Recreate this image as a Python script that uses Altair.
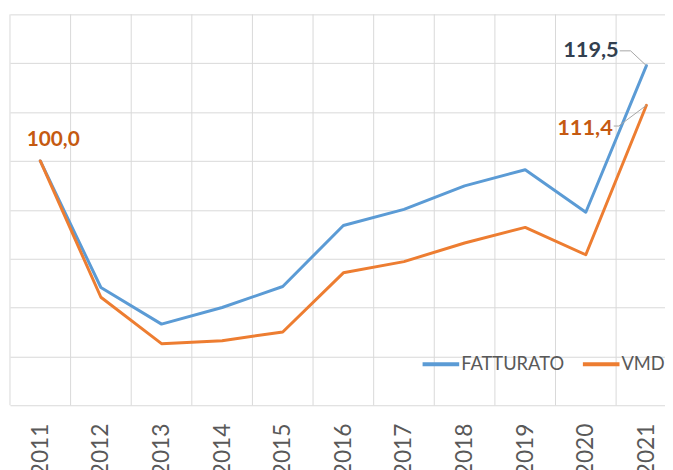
import altair as alt
import pandas as pd

# ---- data ----
years = list(range(2011, 2022))
fatturato = [100.0, 74.1, 66.6, 70.0, 74.3, 86.8, 90.1, 94.9, 98.2, 89.5, 119.5]
vmd = [100.0, 72.1, 62.6, 63.2, 65.0, 77.1, 79.4, 83.2, 86.4, 80.8, 111.4]
series = ["FATTURATO", "VMD"]
colors = ["#5b9bd5", "#ed7d31"]

rows = []
for yr, f, v in zip(years, fatturato, vmd):
    rows.append({"year": yr, "serie": series[0], "val": f})
    rows.append({"year": yr, "serie": series[1], "val": v})
df = pd.DataFrame(rows)

# ---- layout ----
W, H = 662, 395
STEP = 61.26                      # px per year
YMIN, YMAX = 50, 130
PPU = H / (YMAX - YMIN)           # px per value unit

xs = alt.Scale(domain=[years[0] - 0.5, years[0] - 0.5 + W / STEP], nice=False, zero=False)
ys = alt.Scale(domain=[YMIN, YMAX], nice=False, zero=False)

grid_col = "#d9d9d9"
text_col = "#595959"

x_axis = alt.Axis(
    values=years, format="d", labelAngle=-90, grid=False, domain=False,
    ticks=False, tickSize=0, labelPadding=18, labelFont="Lato",
    labelFontSize=23, labelColor=text_col, title=None, labelOverlap=False,
)
y_axis = alt.Axis(
    values=list(range(YMIN, YMAX + 1, 10)), grid=True, gridColor=grid_col,
    gridWidth=1, labels=False, ticks=False, domain=False, title=None,
)

base = alt.Chart(df)

# vertical gridlines at category boundaries
bounds = pd.DataFrame({"b": [y - 0.5 for y in years]})
vgrid = alt.Chart(bounds).mark_rule(color=grid_col, strokeWidth=1).encode(
    x=alt.X("b:Q", scale=xs, axis=x_axis, title=None)
)

lines = base.mark_line(strokeWidth=3, strokeJoin="round", strokeCap="round").encode(
    x=alt.X("year:Q", scale=xs, axis=x_axis, title=None),
    y=alt.Y("val:Q", scale=ys, axis=y_axis, title=None),
    color=alt.Color(
        "serie:N",
        scale=alt.Scale(domain=series, range=colors),
        legend=alt.Legend(
            title=None, orient="none", direction="horizontal", legendX=415, legendY=333,
            symbolType="stroke", symbolSize=1369, symbolStrokeWidth=4,
            labelFont="Lato", labelFontSize=18.5, labelColor=text_col,
            labelOffset=0, columnPadding=10, padding=0,
        ),
    ),
    order=alt.Order("serie:N"),
)

# leader lines for the 2021 labels
last = years[-1]
lead = pd.DataFrame([
    {"k": "F", "o": 0, "x": last, "v": fatturato[-1]},
    {"k": "F", "o": 1, "x": last - 16 / STEP, "v": fatturato[-1] + 15 / PPU},
    {"k": "F", "o": 2, "x": last - 27 / STEP, "v": fatturato[-1] + 15 / PPU},
    {"k": "V", "o": 0, "x": last, "v": vmd[-1]},
    {"k": "V", "o": 1, "x": last - 28 / STEP, "v": vmd[-1] - 21 / PPU},
    {"k": "V", "o": 2, "x": last - 33 / STEP, "v": vmd[-1] - 21 / PPU},
])
leaders = alt.Chart(lead).mark_line(color="#a6a6a6", strokeWidth=1).encode(
    x=alt.X("x:Q", scale=xs, axis=x_axis, title=None),
    y=alt.Y("v:Q", scale=ys, axis=y_axis, title=None),
    detail="k:N",
    order="o:Q",
)

lab = base.transform_calculate(
    t="replace(format(datum.val, '.1f'), '.', ',')"
)

def label(year, serie, color, size, align, dx, dy):
    return lab.transform_filter(
        (alt.datum.year == year) & (alt.datum.serie == serie)
    ).mark_text(
        font="Lato", fontWeight="bold", fontSize=size, color=color,
        align=align, baseline="middle", dx=dx, dy=dy,
    ).encode(
        x=alt.X("year:Q", scale=xs, axis=x_axis, title=None),
        y=alt.Y("val:Q", scale=ys, axis=y_axis, title=None),
        text="t:N",
    )

lab_first = label(years[0], series[1], "#c55a11", 21, "center", 13, -21)
lab_f = label(last, series[0], "#323f4f", 22, "right", -28, -16)
lab_v = label(last, series[1], "#c55a11", 22, "right", -34, 23)

chart = alt.layer(vgrid, lines, leaders, lab_first, lab_f, lab_v).properties(
    width=W, height=H,
    autosize=alt.AutoSizeParams(type="none"),
    padding={"left": 2, "top": 4, "right": 0, "bottom": 63},
    background="white",
).configure_view(stroke=None)

chart.save("out.html", embed_options={"renderer": "svg", "actions": False})
